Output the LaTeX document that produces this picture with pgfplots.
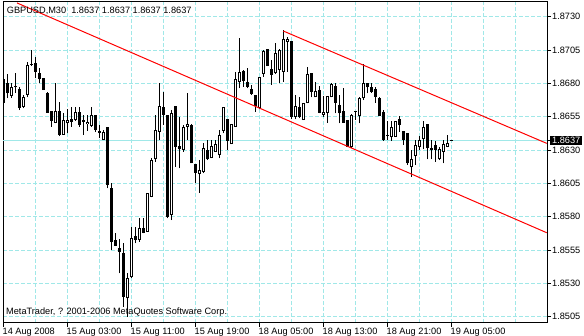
\documentclass[border=0pt]{standalone}
\usepackage{fontspec}
\setmainfont{Liberation Sans}
\usepackage{pgfplots}
\usepackage{pgfplotstable}
\pgfplotsset{compat=1.18}
\definecolor{gridc}{RGB}{160,232,232}
\pgfplotstableread{
k O H L C
0 1.86830 1.86850 1.86650 1.86650
1 1.86805 1.86870 1.86688 1.86725
2 1.86705 1.86805 1.86690 1.86770
3 1.86780 1.86875 1.86730 1.86770
4 1.86755 1.86775 1.86600 1.86618
5 1.86625 1.86713 1.86613 1.86695
6 1.86713 1.86963 1.86695 1.86938
7 1.86940 1.87050 1.86930 1.86945
8 1.86955 1.87000 1.86838 1.86888
9 1.86880 1.86913 1.86800 1.86830
10 1.86838 1.86838 1.86750 1.86750
11 1.86730 1.86738 1.86580 1.86580
12 1.86595 1.86595 1.86475 1.86520
13 1.86505 1.86800 1.86500 1.86595
14 1.86595 1.86663 1.86405 1.86413
15 1.86413 1.86575 1.86413 1.86525
16 1.86500 1.86605 1.86425 1.86525
17 1.86530 1.86625 1.86475 1.86513
18 1.86525 1.86625 1.86520 1.86588
19 1.86588 1.86625 1.86475 1.86488
20 1.86525 1.86563 1.86413 1.86510
21 1.86495 1.86563 1.86445 1.86513
22 1.86480 1.86625 1.86475 1.86563
23 1.86563 1.86563 1.86438 1.86450
24 1.86445 1.86488 1.86388 1.86430
25 1.86375 1.86450 1.86375 1.86438
26 1.86470 1.86470 1.86013 1.86038
27 1.86013 1.86050 1.85550 1.85613
28 1.85625 1.85675 1.85583 1.85583
29 1.85563 1.85630 1.85375 1.85538
30 1.85525 1.85600 1.85125 1.85200
31 1.85188 1.85375 1.85050 1.85338
32 1.85345 1.85725 1.85338 1.85638
33 1.85655 1.85725 1.85600 1.85625
34 1.85625 1.85788 1.85613 1.85713
35 1.85713 1.85788 1.85675 1.85680
36 1.85688 1.85975 1.85688 1.85975
37 1.85950 1.86238 1.85945 1.86225
38 1.86230 1.86563 1.86213 1.86450
39 1.86438 1.86800 1.86375 1.86630
40 1.86625 1.86738 1.86488 1.86563
41 1.86563 1.86563 1.85788 1.85800
42 1.85813 1.86600 1.85775 1.86575
43 1.86630 1.86630 1.86175 1.86325
44 1.86330 1.86550 1.86163 1.86305
45 1.86300 1.86488 1.86288 1.86475
46 1.86475 1.86725 1.86375 1.86495
47 1.86488 1.86495 1.86200 1.86200
48 1.86195 1.86195 1.86050 1.86130
49 1.86120 1.86225 1.85980 1.86150
50 1.86138 1.86350 1.86125 1.86313
51 1.86300 1.86375 1.86225 1.86230
52 1.86238 1.86375 1.86238 1.86330
53 1.86288 1.86375 1.86288 1.86345
54 1.86263 1.86450 1.86238 1.86413
55 1.86445 1.86620 1.86425 1.86620
56 1.86533 1.86533 1.86300 1.86370
57 1.86345 1.86495 1.86345 1.86495
58 1.86475 1.86888 1.86475 1.86830
59 1.86808 1.87138 1.86763 1.86888
60 1.86895 1.86900 1.86775 1.86820
61 1.86813 1.86913 1.86763 1.86775
62 1.86758 1.86788 1.86713 1.86720
63 1.86713 1.86713 1.86588 1.86630
64 1.86613 1.86850 1.86605 1.86845
65 1.86870 1.87050 1.86850 1.87045
66 1.87055 1.87055 1.86930 1.86930
67 1.86905 1.86975 1.86788 1.86863
68 1.86875 1.87100 1.86870 1.87025
69 1.86900 1.87055 1.86800 1.87050
70 1.86888 1.87200 1.86813 1.87130
71 1.87113 1.87145 1.86888 1.87130
72 1.87120 1.87120 1.86530 1.86550
73 1.86550 1.86713 1.86530 1.86630
74 1.86625 1.86695 1.86538 1.86550
75 1.86525 1.86655 1.86525 1.86655
76 1.86655 1.86925 1.86650 1.86870
77 1.86875 1.86880 1.86695 1.86738
78 1.86695 1.86813 1.86695 1.86743
79 1.86750 1.86780 1.86575 1.86580
80 1.86563 1.86705 1.86550 1.86588
81 1.86580 1.86705 1.86505 1.86705
82 1.86695 1.86805 1.86695 1.86795
83 1.86780 1.86800 1.86575 1.86655
84 1.86638 1.86713 1.86500 1.86575
85 1.86595 1.86763 1.86505 1.86505
86 1.86525 1.86525 1.86320 1.86325
87 1.86325 1.86570 1.86313 1.86563
88 1.86588 1.86595 1.86525 1.86590
89 1.86555 1.86695 1.86500 1.86688
90 1.86688 1.86945 1.86675 1.86800
91 1.86800 1.86800 1.86725 1.86770
92 1.86770 1.86805 1.86730 1.86738
93 1.86755 1.86770 1.86655 1.86700
94 1.86688 1.86700 1.86555 1.86555
95 1.86588 1.86600 1.86370 1.86375
96 1.86405 1.86520 1.86375 1.86413
97 1.86395 1.86520 1.86370 1.86470
98 1.86400 1.86520 1.86400 1.86520
99 1.86530 1.86555 1.86438 1.86488
100 1.86445 1.86445 1.86338 1.86375
101 1.86430 1.86430 1.86188 1.86200
102 1.86170 1.86300 1.86100 1.86230
103 1.86255 1.86375 1.86188 1.86338
104 1.86325 1.86405 1.86300 1.86375
105 1.86380 1.86520 1.86305 1.86475
106 1.86495 1.86495 1.86230 1.86313
107 1.86300 1.86375 1.86230 1.86313
108 1.86338 1.86370 1.86213 1.86300
109 1.86230 1.86325 1.86225 1.86305
110 1.86288 1.86375 1.86200 1.86345
111 1.86325 1.86413 1.86320 1.86350
112 1.86370 1.86370 1.86370 1.86370
}\candles

\begin{document}
\begin{tikzpicture}
\pgfresetboundingbox
\useasboundingbox (-3bp,-13bp) rectangle (581bp,323bp);
\begin{axis}[
  at={(0,0)}, anchor=south west,
  scale only axis, width=544bp, height=321bp,
  xmin=-0.1, xmax=135.9, ymin=1.85003, ymax=1.87410,
  axis line style={black, line width=1bp},
  every tick/.style={black, line width=1bp},
  tick align=outside,
  xtick pos=bottom, ytick pos=right, yticklabel pos=right,
  major tick length=4bp,
  minor tick length=0bp,
  xtick={-0.1,15.9,31.9,47.9,63.9,79.9,95.9,111.9},
  xticklabels={14 Aug 2008,15 Aug 03:00,15 Aug 11:00,15 Aug 19:00,18 Aug 05:00,18 Aug 13:00,18 Aug 21:00,19 Aug 05:00},
  minor xtick={7.9,15.9,23.9,31.9,39.9,47.9,55.9,63.9,71.9,79.9,87.9,95.9,103.9,111.9,119.9,127.9},
  xmajorgrids=false, xminorgrids=true, ymajorgrids=true,
  major grid style={gridc, dash pattern=on 4bp off 2bp, line width=1bp},
  minor grid style={gridc, dash pattern=on 4bp off 2bp, line width=1bp},
  ytick={1.8505,1.8530,1.8555,1.8580,1.8605,1.8630,1.8655,1.8680,1.8705,1.8730},
  /pgf/number format/fixed,
  /pgf/number format/fixed zerofill,
  /pgf/number format/precision=4,
  /pgf/number format/assume math mode=true,
  ticklabel style={font=\fontsize{9.2bp}{11bp}\selectfont, text=black},
  xticklabel style={anchor=north west, inner sep=0pt, xshift=-0.5bp, yshift=-1bp},
  yticklabel style={anchor=west, inner sep=0pt, xshift=1bp},
  extra y ticks={1.8637},
  extra y tick style={grid=major, major grid style={solid, gridc, line width=1bp},
     yticklabel style={fill=black, text=white, inner xsep=2bp, inner ysep=1.5bp, xshift=-2bp}},
]
% wicks
\addplot[draw=none, mark=none, forget plot,
  error bars/.cd, y dir=plus, y explicit, error mark=none,
  error bar style={draw=black, solid, line width=1bp}]
  table[x=k, y=L, y error plus expr={\thisrow{H}-\thisrow{L}}] {\candles};
% bodies (outline / black fill)
\addplot[draw=none, mark=none, forget plot,
  error bars/.cd, y dir=plus, y explicit, error mark=none,
  error bar style={draw=black, solid, line width=3bp}]
  table[x=k, y expr={min(\thisrow{O},\thisrow{C})},
        y error plus expr={max(abs(\thisrow{C}-\thisrow{O}),0.000075)}] {\candles};
% white interiors of up candles
\addplot[draw=none, mark=none, forget plot,
  error bars/.cd, y dir=plus, y explicit, error mark=none,
  error bar style={draw=white, solid, line width=1bp}]
  table[x=k, y expr={(\thisrow{C}>\thisrow{O}) ? (\thisrow{O}+0.000075) : 1.849},
        y error plus expr={max(\thisrow{C}-\thisrow{O}-0.00015,0)}] {\candles};
% trend channel
\addplot[red, line width=1bp, forget plot] coordinates {(3.4,1.87403) (135.825,1.85680)};
\addplot[red, line width=1bp, forget plot] coordinates {(69.975,1.871925) (135.825,1.86350)};
\node[anchor=base west, inner sep=0pt, font=\fontsize{9.2bp}{11bp}\selectfont]
  at ([xshift=3.7bp, yshift=-11.3bp]rel axis cs:0,1) {GBPUSD,M30\ \ 1.8637 1.8637 1.8637 1.8637};
\node[anchor=base west, inner sep=0pt, font=\fontsize{9.2bp}{11bp}\selectfont]
  at ([xshift=3bp, yshift=9bp]rel axis cs:0,0) {MetaTrader, ? 2001-2006 MetaQuotes Software Corp.};
\end{axis}
\end{tikzpicture}
\end{document}
